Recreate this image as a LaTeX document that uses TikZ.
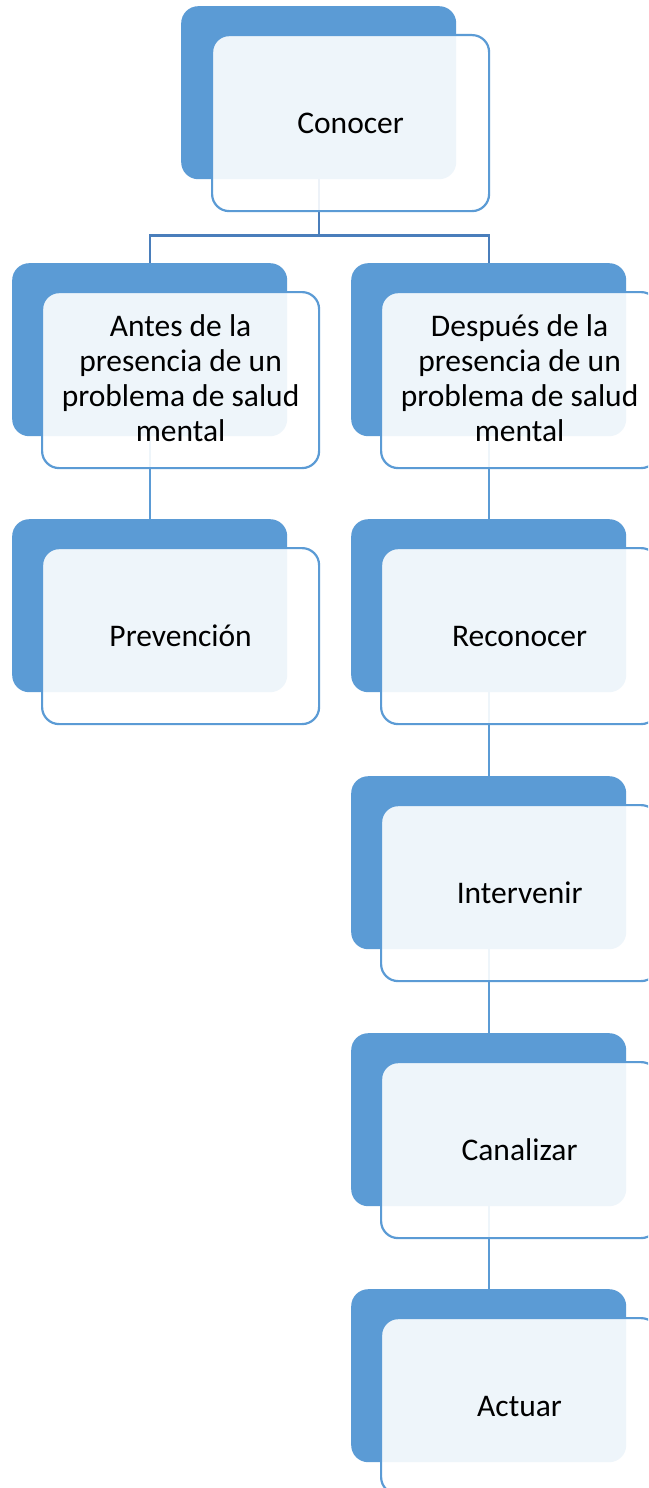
\documentclass[tikz,border=0pt]{standalone}
\usepackage{fontspec}
\setmainfont{Carlito}
\definecolor{boxblue}{HTML}{5B9BD5}
\definecolor{treeblue}{HTML}{4A7EBB}
\begin{document}
\begin{tikzpicture}[x=1pt,y=-1pt,
  backbox/.style={rectangle,rounded corners=17pt,fill=boxblue,draw=none,
    minimum width=275pt,minimum height=173pt,inner sep=0pt,anchor=north west},
  frontbox/.style={rectangle,rounded corners=17pt,fill=white,fill opacity=0.9,
    draw=boxblue,line width=2.2pt,minimum width=277pt,minimum height=176pt,
    inner sep=0pt,anchor=north west},
  lbl/.style={font=\fontsize{31.5}{35}\selectfont,align=center,text=black,inner sep=0pt},
  treeline/.style={draw=treeblue,line width=2.2pt},
  chainline/.style={draw=boxblue,line width=2.2pt}]
\clip (0,0) rectangle (648,1488);
\fill[white] (0,0) rectangle (648,1488);
% back boxes
\node[backbox] (b0) at (181,6) {};
\node[backbox] (bl1) at (12,263) {};
\node[backbox] (bl2) at (12,519) {};
\node[backbox] (br1) at (351,263) {};
\node[backbox] (br2) at (351,519) {};
\node[backbox] (br3) at (351,776) {};
\node[backbox] (br4) at (351,1033) {};
\node[backbox] (br5) at (351,1289) {};
% connectors
\coordinate (j) at ([yshift=-56pt]b0.south);
\draw[treeline] (b0.south) -- (j);
\draw[treeline] (bl1.north) |- (j) -| (br1.north);
\draw[chainline] (bl1.south) -- (bl2.north);
\draw[chainline] (br1.south) -- (br2.north);
\draw[chainline] (br2.south) -- (br3.north);
\draw[chainline] (br3.south) -- (br4.north);
\draw[chainline] (br4.south) -- (br5.north);
% front boxes
\node[frontbox] (f0) at (211,34) {};
\node[frontbox] (fl1) at (41,291) {};
\node[frontbox] (fl2) at (41,547) {};
\node[frontbox] (fr1) at (380,291) {};
\node[frontbox] (fr2) at (380,547) {};
\node[frontbox] (fr3) at (380,804) {};
\node[frontbox] (fr4) at (380,1061) {};
\node[frontbox] (fr5) at (380,1317) {};
% labels
\node[lbl] (t0) at (f0.center) {Conocer};
\node[lbl] (tl1) at ([yshift=2pt]fl1.center) {Antes de la\\presencia de un\\problema de salud\\mental};
\node[lbl] (tl2) at (fl2.center) {Prevención};
\node[lbl] (tr1) at ([yshift=2pt]fr1.center) {Después de la\\presencia de un\\problema de salud\\mental};
\node[lbl] (tr2) at (fr2.center) {Reconocer};
\node[lbl] (tr3) at (fr3.center) {Intervenir};
\node[lbl] (tr4) at (fr4.center) {Canalizar};
\node[lbl] (tr5) at (fr5.center) {Actuar};
\end{tikzpicture}
\end{document}
